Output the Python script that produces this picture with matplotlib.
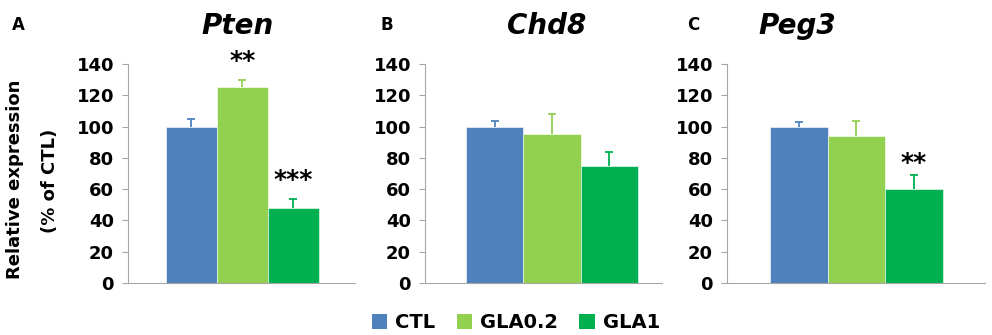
import numpy as np
import matplotlib
matplotlib.use("Agg")
import matplotlib.pyplot as plt
from matplotlib.patches import Patch

plt.rcParams['font.family'] = ['DejaVu Sans']

# data
genes = ['Pten', 'Chd8', 'Peg3']
panel_letters = ['A', 'B', 'C']
groups = ['CTL', 'GLA0.2', 'GLA1']
means = {
    'Pten': [100, 125, 48],
    'Chd8': [100, 95, 75],
    'Peg3': [100, 94, 60],
}
errors = {
    'Pten': [5, 4.5, 5.5],
    'Chd8': [3.5, 13, 9],
    'Peg3': [3, 9.5, 9],
}
# significance marks: (gene, group index, label, y position)
stars = [('Pten', 1, '**', 142), ('Pten', 2, '***', 66), ('Peg3', 2, '**', 77)]

colors = ['#4F81BD', '#92D050', '#00B050']
yticks = [0, 20, 40, 60, 80, 100, 120, 140]

W, H = 992, 335
fig = plt.figure(figsize=(W / 100, H / 100), dpi=100)

# axes boxes in pixels: left, right
boxes = [(128, 355), (425, 662), (727, 985)]
xlims = [(-2.245, 2.206), (-2.22, 1.92), (-2.245, 2.23)]
title_x = [238, 547, 797]
letter_x = [18, 387, 693]
y0, y140 = 283, 64
grey = '#A6A6A6'

axes = []
for i, g in enumerate(genes):
    l, r = boxes[i]
    ax = fig.add_axes([l / W, (H - y0) / H, (r - l) / W, (y0 - y140) / H])
    axes.append(ax)
    x = np.arange(len(groups)) - 1
    for j in range(len(groups)):
        ax.bar(x[j], means[g][j], width=1.0, color=colors[j],
               edgecolor='white', linewidth=0.4, zorder=2)
        eb = ax.errorbar(x[j], means[g][j], yerr=[[0], [errors[g][j]]],
                         fmt='none', ecolor=colors[j], elinewidth=1.3,
                         capsize=3.2, capthick=1.3, zorder=3)
        # keep only the upper cap
        for cap in eb[1]:
            if cap.get_ydata()[0] <= means[g][j]:
                cap.set_visible(False)
    ax.set_xlim(*xlims[i])
    ax.set_ylim(0, 140)
    ax.set_yticks(yticks)
    ax.set_yticklabels([str(t) for t in yticks], fontsize=13, fontweight='bold')
    ax.set_xticks([])
    for s in ['top', 'right']:
        ax.spines[s].set_visible(False)
    ax.spines['left'].set_color(grey)
    ax.spines['bottom'].set_color(grey)
    ax.tick_params(axis='y', direction='out', length=4, color=grey, pad=6)
    ax.patch.set_alpha(0)

    fig.text(title_x[i] / W, 1 - 26 / H, g, fontsize=20, fontweight='bold',
             fontstyle='italic', ha='center', va='center')
    fig.text(letter_x[i] / W, 1 - 25 / H, panel_letters[i], fontsize=12,
             fontweight='bold', ha='center', va='center')

for g, j, lab, yv in stars:
    ax = axes[genes.index(g)]
    ax.text(j - 1, yv, lab, ha='center', va='center', fontsize=18,
            fontweight='bold', clip_on=False)

fig.text(15 / W, 1 - 179 / H, 'Relative expression', rotation=90,
         fontsize=13, fontweight='bold', ha='center', va='center')
fig.text(50 / W, 1 - 181 / H, '(% of CTL)', rotation=90,
         fontsize=13, fontweight='bold', ha='center', va='center')

handles = [Patch(facecolor=c, edgecolor='none') for c in colors]
fig.legend(handles, groups, loc='center', bbox_to_anchor=(516 / W, 1 - 323 / H),
           ncol=3, frameon=False, prop={'weight': 'bold', 'size': 14},
           handlelength=0.8, handleheight=0.8, handletextpad=0.4,
           columnspacing=1.1, borderpad=0)

fig.savefig('out.png', dpi=100)
